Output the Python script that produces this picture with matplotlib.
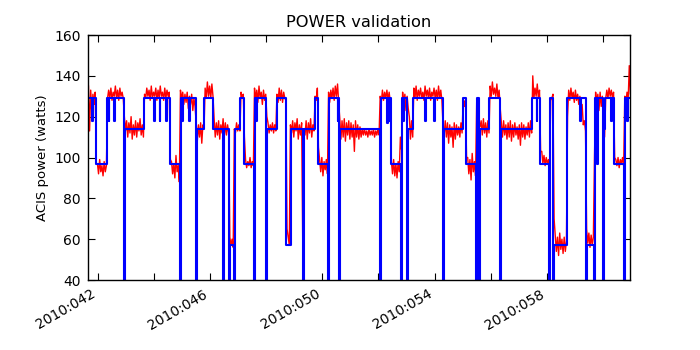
import numpy as np
import matplotlib.pyplot as plt

# model power: day of year where each level starts
model_days = [41.643, 41.797, 41.832, 41.929, 42.310, 42.381, 42.410, 42.581, 42.610, 42.938,
              42.973, 43.651, 44.004, 44.032, 44.200, 44.228, 44.435, 44.463, 44.567, 44.913,
              44.948, 45.005, 45.034, 45.244, 45.273, 45.483, 45.512, 45.779, 46.111, 46.456,
              46.485, 46.670, 46.699, 46.859, 46.888, 47.073, 47.216, 47.572, 47.604, 47.643,
              47.672, 48.000, 48.032, 48.381, 48.713, 48.881, 49.298, 49.330, 49.747, 49.854,
              50.189, 50.228, 50.545, 50.570, 50.592, 50.620, 52.043, 52.089, 52.314, 52.339,
              52.374, 52.399, 52.456, 52.813, 52.845, 52.891, 52.916, 53.027, 53.059, 53.230,
              53.647, 53.676, 53.968, 53.997, 54.310, 54.343, 55.002, 55.119, 55.476, 55.508,
              55.572, 55.604, 55.950, 56.321, 56.353, 57.462, 57.640, 57.668, 57.757, 58.078,
              58.111, 58.232, 58.264, 58.720, 59.194, 59.223, 59.398, 59.426, 59.672, 59.701,
              59.790, 59.818, 60.004, 60.032, 60.086, 60.300, 60.328, 60.406, 60.752, 60.781,
              60.859, 60.888]
model_power = [129, 118, 129, 97, 129, 118, 129, 118, 129, 0,
               114, 129, 118, 129, 118, 129, 118, 129, 97, 0,
               129, 118, 129, 118, 129, 0, 114, 129, 114, 0,
               114, 0, 57, 0, 114, 129, 97, 0, 129, 118,
               129, 0, 114, 129, 57, 114, 0, 114, 129, 97,
               0, 129, 118, 129, 0, 114, 0, 129, 117, 129,
               118, 129, 97, 0, 129, 118, 129, 0, 114, 129,
               118, 129, 118, 129, 0, 114, 129, 97, 0, 129,
               0, 114, 129, 0, 114, 129, 118, 129, 97, 0,
               129, 0, 57, 129, 118, 129, 0, 57, 0, 129,
               97, 129, 0, 114, 129, 118, 129, 97, 0, 129,
               118, 129]
model_end = 61.002

# telemetry power: two readings in every 0.08 day bin, starting at day 41.66
data_start = 41.66
data_step = 0.08
power_a = [135, 133, 131, 132,
           97, 99, 96, 98,
           96,
           133, 134, 132, 135, 133, 134, 132,
           120, 118, 117, 120, 116, 118, 117, 119, 116,
           131, 134, 133, 135, 132, 134, 133, 135, 132, 134, 133, 132,
           98, 97, 101, 96,
           133, 132, 131, 132, 130, 131, 129,
           117, 116, 117, 116,
           134, 137, 135, 136,
           119, 117, 118, 116, 119, 117, 116,
           61, 60,
           114, 117, 116,
           132, 131,
           99, 98, 100, 98,
           134, 133, 135, 132, 133, 131,
           117, 116, 117, 116,
           131, 134, 133, 132,
           128, 61,
           116, 118, 117, 119, 116, 117, 114, 118, 117, 119, 116,
           130, 134,
           99, 100, 98, 99,
           132, 133, 134, 135, 136,
           119, 118, 119, 117, 118, 117, 116, 118, 116, 115, 114, 114, 113, 114, 113, 114, 113, 114,
           130, 133, 132, 133, 132,
           98, 99, 97, 98, 110,
           132, 131, 130,
           120, 118,
           134, 135, 133, 134, 132, 135, 133, 134, 132, 134, 133, 135, 133,
           116, 118, 117, 116, 115, 117, 116, 115, 117,
           129, 128,
           100, 99, 102, 98,
           127, 118,
           118, 119, 117, 118,
           135, 137, 134, 136, 133,
           117, 118, 116, 117, 118, 116, 117, 115, 116, 117, 116, 115, 117, 118,
           140, 134, 136, 133,
           103, 101, 100, 99,
           128, 131,
           62, 61, 63, 60, 61, 59,
           133, 134, 132, 133, 131, 130, 126, 118,
           65, 63, 62, 61,
           132, 131, 132, 130,
           110,
           133, 134, 133, 132,
           99, 100, 99, 100,
           130, 132, 145, 138]
power_b = [113, 122, 126, 97,
           92, 93, 91, 93,
           129,
           129, 128, 130, 129, 128, 130, 129,
           113, 110, 112, 109, 111, 110, 113, 111, 110,
           129, 130, 128, 129, 130, 128, 129, 130, 128, 129, 130, 99,
           92, 90, 93, 88,
           128, 126, 127, 124, 126, 123, 125,
           108, 110, 107, 114,
           129, 130, 129, 130,
           110, 111, 109, 112, 110, 111, 112,
           57, 56,
           112, 113, 113,
           129, 110,
           95, 96, 95, 96,
           128, 127, 129, 126, 128, 120,
           112, 113, 112, 113,
           127, 128, 127, 129,
           65, 57,
           112, 110, 113, 109, 111, 57, 111, 109, 112, 110, 113,
           128, 105,
           93, 91, 94, 92,
           127, 129, 128, 130, 127,
           109, 110, 108, 111, 109, 110, 103, 110, 109, 110, 111, 111, 110, 111, 111, 110, 111, 111,
           127, 128, 129, 128, 127,
           92, 91, 90, 93, 104,
           126, 123, 124,
           109, 110,
           129, 128, 130, 129, 128, 130, 129, 128, 130, 129, 128, 129, 128,
           111, 110, 107, 110, 105, 109, 111, 110, 112,
           125, 100,
           92, 89, 93, 91,
           124, 115,
           111, 112, 110, 112,
           130, 131, 130, 129, 124,
           110, 111, 109, 110, 108, 110, 111, 109, 106, 110, 109, 111, 110, 112,
           129, 130, 129, 103,
           97, 96, 97, 96,
           129, 70,
           54, 52, 55, 53, 54, 120,
           128, 129, 127, 128, 126, 122, 116, 113,
           58, 56, 57, 100,
           126, 123, 125, 124,
           129,
           129, 130, 129, 100,
           96, 95, 97, 96,
           127, 128, 131, 130]

tick_days = [42, 44, 46, 48, 50, 52, 54, 56, 58, 60]
tick_labels = ['2010:042', '', '2010:046', '', '2010:050', '', '2010:054', '', '2010:058', '']

bin_days = data_start + data_step * np.arange(len(power_a))
data_days = np.column_stack([bin_days, bin_days + data_step / 2]).ravel()
data_power = np.column_stack([power_a, power_b]).ravel()
steps_x = model_days + [model_end]
steps_y = model_power + [model_power[-1]]

fig = plt.figure(figsize=(7, 3.5), dpi=100)
ax = fig.add_axes([0.1257, 0.2, 0.7743, 0.7])
ax.plot(data_days, data_power, color='#ff0000', linewidth=1)
ax.plot(steps_x, steps_y, color='#0000ff', linewidth=1.5, drawstyle='steps-post')

ax.set_xlim(41.6435, 60.966)
ax.set_ylim(40, 160)
ax.set_xticks(tick_days)
ax.set_xticklabels(tick_labels, rotation=30, ha='right', fontsize=10)
ax.set_yticks(range(40, 161, 20))
ax.tick_params(axis='y', labelsize=10)
ax.tick_params(direction='in', top=True, right=True, length=5, width=0.8, pad=5)
for s in ax.spines.values():
    s.set_linewidth(1)

ax.set_title('POWER validation', fontsize=11.7)
ax.set_ylabel('ACIS power (watts)', fontsize=9.5)

fig.savefig('out.png', dpi=100)
